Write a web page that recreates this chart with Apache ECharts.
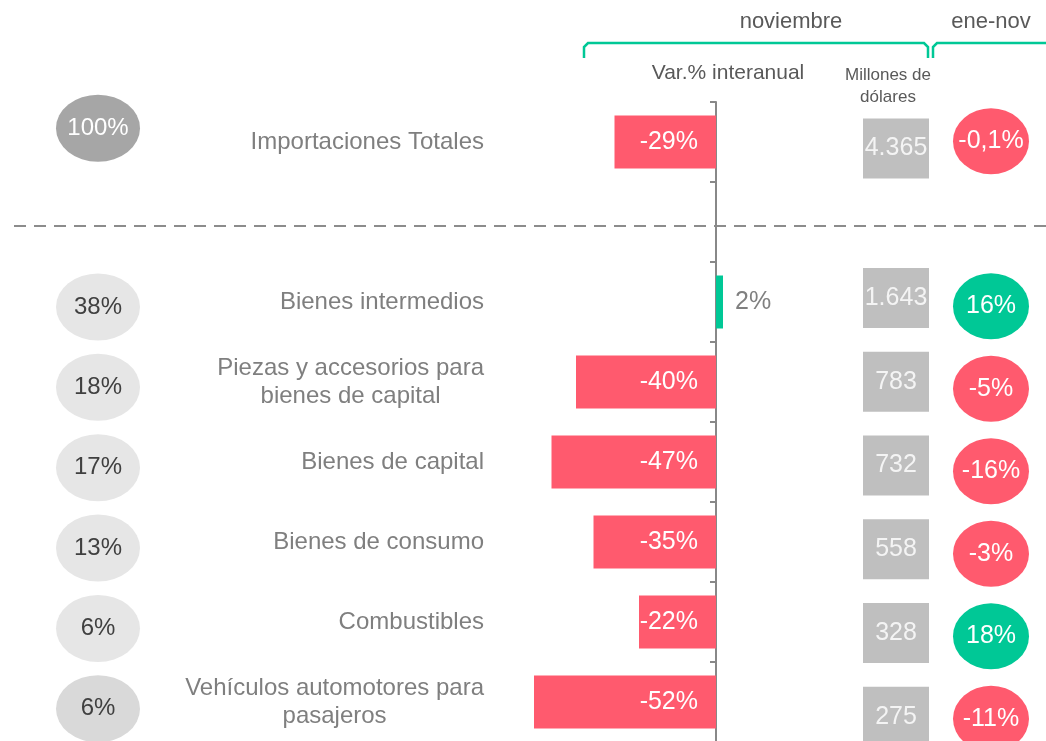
<!DOCTYPE html>
<html>
<head>
<meta charset="utf-8">
<script src="https://cdn.jsdelivr.net/npm/echarts@6/dist/echarts.min.js"></script>
<style>
  html, body { margin: 0; padding: 0; background: #fff; }
  #main { width: 1046px; height: 741px; }
</style>
</head>
<body>
<div id="main"></div>
<script>
// importaciones por uso economico - noviembre
const categories = [
  'Importaciones Totales',
  '',
  'Bienes intermedios',
  'Piezas y accesorios para\nbienes de capital',
  'Bienes de capital',
  'Bienes de consumo',
  'Combustibles',
  'Vehículos automotores para\npasajeros'
]
const varInteranual = [-29, null, 2, -40, -47, -35, -22, -52]   // var.% nov
const participacion = [100, null, 38, 18, 17, 13, 6, 6]        // % del total
const millonesUSD = [4365, null, 1643, 783, 732, 558, 328, 275]
const varEneNov = [-0.1, null, 16, -5, -16, -3, 18, -11]

const RED = '#ff5a6e'
const GREEN = '#00c896'
const FONT = '"Liberation Sans", Arial, sans-serif'

const chart = echarts.init(document.getElementById('main'), null, { renderer: 'canvas' })

function hiddenY(gridIndex) {
  return { type: 'category', gridIndex: gridIndex, inverse: true, data: categories, show: false }
}
function hiddenX(gridIndex) {
  return { type: 'value', gridIndex: gridIndex, min: 0, max: 1, show: false }
}
function miles(v) {
  return String(v).replace(/\B(?=(\d{3})+(?!\d))/g, '.')
}

const barData = varInteranual.map(v => {
  if (v == null) return '-'
  if (v >= 0) {
    return {
      value: v,
      itemStyle: { color: GREEN },
      label: { position: 'right', distance: 12, color: '#808080' }
    }
  }
  return { value: v, itemStyle: { color: RED } }
})

const shareData = []
participacion.forEach((v, i) => {
  if (v == null) return
  const total = i === 0
  shareData.push({
    value: [0.5, i, v],
    symbolOffset: total ? [0, -18] : [0, 0],
    itemStyle: { color: total ? '#a6a6a6' : (i === participacion.length - 1 ? '#d9d9d9' : '#e6e6e6') },
    label: { color: total ? '#ffffff' : '#404040' }
  })
})

const boxData = []
millonesUSD.forEach((v, i) => {
  if (v == null) return
  boxData.push({ value: [0.5, i, v], symbolOffset: i === 0 ? [0, 18] : [0, 0] })
})

const eneNovData = []
varEneNov.forEach((v, i) => {
  if (v == null) return
  eneNovData.push({ value: [0.5, i, v], itemStyle: { color: v < 0 ? RED : GREEN } })
})

const option = {
  backgroundColor: '#ffffff',
  animation: false,
  textStyle: { fontFamily: FONT },
  grid: [
    { left: 506, width: 245, top: 102, height: 640, outerBoundsMode: 'none' },   // barras
    { left: 56, width: 84, top: 106, height: 643, outerBoundsMode: 'none' },     // participacion
    { left: 863, width: 66, top: 88.5, height: 670, outerBoundsMode: 'none' },   // millones
    { left: 953, width: 76, top: 100, height: 660, outerBoundsMode: 'none' }     // ene-nov
  ],
  xAxis: [
    { type: 'value', gridIndex: 0, min: -60, max: 10, show: false },
    hiddenX(1),
    hiddenX(2),
    hiddenX(3)
  ],
  yAxis: [
    {
      type: 'category',
      gridIndex: 0,
      inverse: true,
      data: categories,
      axisLine: { show: true, onZero: true, lineStyle: { color: '#888888', width: 2 } },
      axisTick: { show: true, length: 6, lineStyle: { color: '#888888', width: 2 } },
      axisLabel: {
        interval: 0,
        margin: 22,
        fontSize: 24,
        color: '#7f7f7f',
        formatter: function (value) {
          if (!value) return ''
          return value.split('\n').map(s => '{c|' + s + '}').join('\n')
        },
        rich: {
          c: { align: 'center', fontSize: 24, color: '#7f7f7f', lineHeight: 28, fontFamily: FONT }
        }
      }
    },
    hiddenY(1),
    hiddenY(2),
    hiddenY(3)
  ],
  series: [
    {
      type: 'bar',
      xAxisIndex: 0,
      yAxisIndex: 0,
      barWidth: 53,
      data: barData,
      label: {
        show: true,
        position: 'insideRight',
        distance: 18,
        color: '#ffffff',
        fontSize: 25,
        fontFamily: FONT,
        formatter: p => p.value + '%'
      },
      silent: true
    },
    {
      type: 'scatter',
      xAxisIndex: 1,
      yAxisIndex: 1,
      symbol: 'circle',
      symbolSize: [84, 67],
      itemStyle: { opacity: 1 },
      data: shareData,
      label: {
        show: true,
        position: 'inside',
        fontSize: 24,
        fontFamily: FONT,
        formatter: p => p.value[2] + '%'
      },
      silent: true
    },
    {
      type: 'scatter',
      xAxisIndex: 2,
      yAxisIndex: 2,
      symbol: 'rect',
      symbolSize: [66, 60],
      itemStyle: { color: '#bfbfbf', opacity: 1 },
      data: boxData,
      label: {
        show: true,
        position: 'inside',
        color: '#f4f4f4',
        fontSize: 25,
        fontFamily: FONT,
        formatter: p => miles(p.value[2])
      },
      silent: true
    },
    {
      type: 'scatter',
      xAxisIndex: 3,
      yAxisIndex: 3,
      symbol: 'circle',
      symbolSize: [76, 66],
      itemStyle: { opacity: 1 },
      data: eneNovData,
      label: {
        show: true,
        position: 'inside',
        color: '#ffffff',
        fontSize: 25,
        fontFamily: FONT,
        formatter: p => String(p.value[2]).replace('.', ',') + '%'
      },
      silent: true
    }
  ],
  graphic: [
    // encabezados
    { type: 'text', x: 791, y: 22, style: { text: 'noviembre', fill: '#595959', font: '22px ' + FONT, textAlign: 'center', textVerticalAlign: 'middle' } },
    { type: 'text', x: 991, y: 22, style: { text: 'ene-nov', fill: '#595959', font: '22px ' + FONT, textAlign: 'center', textVerticalAlign: 'middle' } },
    { type: 'text', x: 728, y: 73, style: { text: 'Var.% interanual', fill: '#595959', font: '21px ' + FONT, textAlign: 'center', textVerticalAlign: 'middle' } },
    { type: 'text', x: 888, y: 75, style: { text: 'Millones de', fill: '#595959', font: '17px ' + FONT, textAlign: 'center', textVerticalAlign: 'middle' } },
    { type: 'text', x: 888, y: 97, style: { text: 'dólares', fill: '#595959', font: '17px ' + FONT, textAlign: 'center', textVerticalAlign: 'middle' } },
    // llaves
    {
      type: 'polyline',
      shape: { points: [[584, 58], [584, 47], [588, 43], [924, 43], [928, 47], [928, 58]] },
      style: { stroke: GREEN, lineWidth: 2.5, fill: null }
    },
    {
      type: 'polyline',
      shape: { points: [[933, 58], [933, 47], [937, 43], [1050, 43]] },
      style: { stroke: GREEN, lineWidth: 2.5, fill: null }
    },
    // separador
    {
      type: 'line',
      shape: { x1: 14, y1: 226, x2: 1046, y2: 226 },
      style: { stroke: '#8c8c8c', lineWidth: 2, lineDash: [12, 8] }
    }
  ]
}

chart.setOption(option)
</script>
</body>
</html>
